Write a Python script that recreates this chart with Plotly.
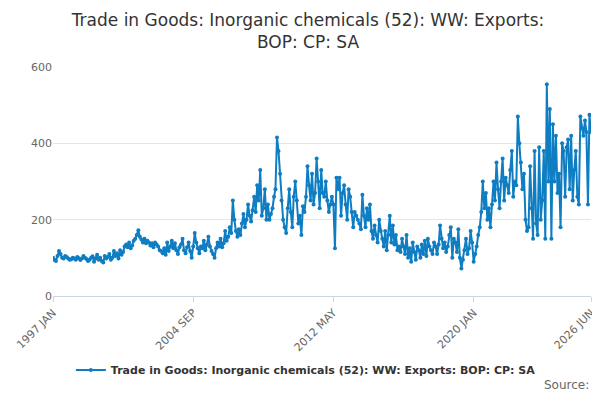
import plotly.graph_objects as go
import pandas as pd

# Данные
values = [
    100, 95, 92, 105, 118, 110, 100, 98, 105, 102, 98, 95,
    96, 100, 98, 95, 102, 99, 94, 98, 105, 100, 97, 92,
    95, 100, 104, 90, 98, 108, 95, 100, 92, 88, 105, 98,
    102, 110, 95, 100, 118, 105, 112, 98, 120, 108, 115, 130,
    135, 128, 140, 125, 132, 145, 150, 160, 172, 155, 148, 140,
    150, 138, 145, 140, 132, 138, 128, 140, 135, 130, 120, 118,
    112, 125, 108, 140, 118, 130, 145, 125, 138, 120, 110, 128,
    135, 150, 120, 112, 128, 140, 118, 100, 130, 165, 140, 125,
    112, 130, 125, 145, 120, 135, 155, 130, 118, 110, 100, 125,
    140, 130, 150, 128, 138, 170, 145, 155, 180, 165, 250, 200,
    170, 155, 175, 160, 190, 215, 180, 200, 240, 210, 195, 225,
    260, 220, 290, 250, 330, 210, 230, 280, 200, 240, 200, 215,
    230, 260, 280, 415, 380, 320, 250, 200, 180, 165, 230, 280,
    220, 180, 260, 300, 250, 190, 210, 160, 235, 220, 260, 340,
    290, 250, 320, 240, 270, 360, 300, 230, 330, 270, 260, 300,
    250, 220, 240, 260, 240, 125, 310, 280, 310, 210, 270, 290,
    240, 200, 280, 260, 220, 180, 220, 210, 200, 190, 175, 265,
    210, 180, 230, 200, 240, 170, 150, 185, 160, 140, 200, 170,
    150, 130, 170, 120, 160, 210, 140, 185, 135, 160, 120, 130,
    115, 150, 130, 110, 160, 100, 125, 90, 140, 115, 95, 130,
    120, 100, 135, 110, 145, 105, 150, 130, 120, 110, 140, 130,
    110, 135, 185, 150, 125, 140, 115, 130, 160, 180, 100, 150,
    140, 115, 175, 100, 72, 95, 120, 150, 110, 125, 170, 140,
    90, 110, 130, 160, 180, 220, 300, 230, 270, 200, 230, 180,
    240, 300, 250, 350, 280, 230, 300, 360, 250, 310, 290, 270,
    330, 380, 260, 300, 290, 470, 400, 350, 280, 320, 200, 170,
    180, 340, 230, 150, 380, 190, 160, 390, 200, 250, 380, 150,
    555, 300, 490, 150, 450, 300, 420, 270, 320, 180, 400, 380,
    260, 390, 410, 280, 420, 250, 330, 380, 260, 240, 470, 440,
    420, 460, 430, 240, 475, 430,
]
dates = pd.date_range("1997-01-01", periods=len(values), freq="MS")

# Создание графика
fig = go.Figure()

fig.add_trace(go.Scatter(
    x=dates,
    y=values,
    name="Trade in Goods: Inorganic chemicals (52): WW: Exports: BOP: CP: SA",
    mode="lines+markers",
    line=dict(color="#0f7dc2", width=2),
    marker=dict(color="#0f7dc2", size=4)
))

# Обновление макета
tickdates = ["1997-01-01", "2004-09-01", "2012-05-01", "2020-01-01", "2026-06-01"]
fig.update_layout(
    width=600, height=400,
    title=dict(text="Trade in Goods: Inorganic chemicals (52): WW: Exports:<br>BOP: CP: SA",
               x=0.5, y=0.955, font=dict(size=17, color="#333333")),
    font=dict(family="DejaVu Sans", color="#666666"),
    margin=dict(l=45, r=17, t=59, b=112),
    xaxis=dict(tickvals=tickdates,
               ticktext=["1997 JAN", "2004 SEP", "2012 MAY", "2020 JAN", "2026 JUN"],
               tickangle=-45, showgrid=False, showline=True, linecolor="#ccd6eb",
               ticks="outside", tickcolor="#ccd6eb", range=["1997-01-01", "2026-06-01"],
               tickfont=dict(size=11), automargin=False),
    yaxis=dict(range=[0, 600], tickvals=[0, 200, 400, 600], gridcolor="#e6e6e6",
               zeroline=False, tickfont=dict(size=11), automargin=False),
    legend=dict(orientation="h", x=0.47, xanchor="center", y=-0.26, yanchor="top",
                font=dict(size=11, color="#333333")),
    showlegend=True,
    plot_bgcolor="white",
    paper_bgcolor="white",
    annotations=[dict(text="Source:", xref="paper", yref="paper", x=1.0, y=-0.35,
                      xanchor="right", yanchor="top", showarrow=False,
                      font=dict(size=12, color="#666666"))]
)
fig.layout.legend.font.weight = "bold"

fig.write_html("out.html")
